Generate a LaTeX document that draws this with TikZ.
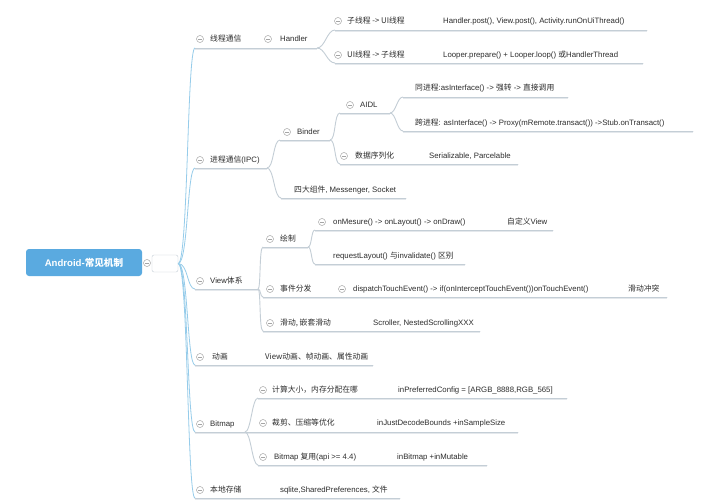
\documentclass[tikz,border=0pt]{standalone}
\usepackage{fontspec}
\setmainfont{Liberation Sans}
\newfontfamily\cjk{Noto Sans CJK SC}
\newcommand\zh[1]{{\cjk #1}}
\definecolor{rootblue}{RGB}{90,170,224}
\definecolor{ulgray}{RGB}{196,206,214}
\definecolor{ulshadow}{RGB}{228,232,236}
\definecolor{trunkblue}{RGB}{150,204,234}
\definecolor{txtgray}{RGB}{45,45,45}
\definecolor{mgray}{RGB}{165,165,165}
\newcommand\ulc[4]{%
  \coordinate (#1-s) at (#2,#4);
  \coordinate (#1-e) at (#3,#4);
  \draw[ulsh] ([yshift=-1.2pt]#1-s) -- ([yshift=-1.2pt]#1-e);
  \draw[ul] (#1-s) -- (#1-e);}
\tikzset{
  ul/.style={draw=ulgray, line width=0.9pt, line cap=round},
  ulsh/.style={draw=ulshadow, line width=0.9pt},
  conn/.style={draw=ulgray, line width=0.9pt},
  trunk/.style={draw=trunkblue, line width=0.8pt},
  txt/.style={anchor=west, inner sep=0pt, text=txtgray, font=\fontsize{7.8}{8.5}\selectfont},
  minus/.style={circle, draw=mgray, fill=white, line width=0.5pt, minimum size=7pt, inner sep=0pt,
    path picture={\draw[mgray, line width=0.5pt] ([xshift=-2pt]path picture bounding box.center) -- ([xshift=2pt]path picture bounding box.center);}},
}
\begin{document}
\begin{tikzpicture}[x=1pt,y=-1pt]
\useasboundingbox[fill=white] (0,0) rectangle (720,500);

% root
\node[fill=rootblue, rounded corners=3pt, minimum width=116pt, minimum height=27pt, inner sep=0pt,
      text=white, font=\fontsize{9.6}{10}\selectfont\bfseries] (root) at (84,262.5) {Android-\zh{常见机制}};
\node[minus] (root-m) at (147,263) {};
\node[draw=ulgray, fill=white, rounded corners=2pt, minimum width=26pt, minimum height=17pt, inner sep=0pt] (box) at (165,263.5) {};

% level-1 underlines
\ulc{t1}{195}{255}{48}
\ulc{t2}{195}{267}{168}
\ulc{t3}{195}{258}{289}
\ulc{t4}{195}{373}{365}
\ulc{t5}{195}{245}{432}
\ulc{t6}{195}{400}{498}

% trunk connectors
\foreach \t in {t1,t2,t3,t4,t5,t6}
  \draw[trunk] (box.east) .. controls +(10,0) and +(-8,0) .. (\t-s);

% ---- 线程通信
\node[minus] (t1-m) at (200,39) {};
\node[txt] (t1) at (210,39) {\zh{线程通信}};
\ulc{h}{255}{317}{48}
\node[minus] (h-m) at (268,39) {};
\node[txt] (h) at (280,39) {Handler};
\ulc{t11}{335}{647}{30}
\ulc{t12}{335}{643}{63}
\draw[conn] (h-e) .. controls +(8,0) and +(-8,0) .. (t11-s);
\draw[conn] (h-e) .. controls +(8,0) and +(-8,0) .. (t12-s);
\node[minus] (t11-m) at (338,21) {};
\node[txt] (t11) at (347,21) {\zh{子线程 -> UI线程}};
\node[txt] (l11) at (443,21) {Handler.post(), View.post(), Activity.runOnUiThread()};
\node[minus] (t12-m) at (338,55) {};
\node[txt] (t12) at (347,55) {\zh{UI线程 -> 子线程}};
\node[txt] (l12) at (443,55) {Looper.prepare() + Looper.loop() \zh{或}HandlerThread};

% ---- 进程通信(IPC)
\node[minus] (t2-m) at (200,160) {};
\node[txt] (t2) at (210,160) {\zh{进程通信}(IPC)};
\ulc{b}{280}{330}{140}
\ulc{f}{281}{406}{198}
\draw[conn] (t2-e) .. controls +(7,0) and +(-7,0) .. (b-s);
\draw[conn] (t2-e) .. controls +(7,0) and +(-7,0) .. (f-s);
\node[minus] (b-m) at (287,132) {};
\node[txt] (b) at (297,132) {Binder};
\node[txt] (f) at (294,190) {\zh{四大组件}, Messenger, Socket};
\ulc{a}{340}{390}{113}
\ulc{s}{340}{518}{164}
\draw[conn] (b-e) .. controls +(6,0) and +(-6,0) .. (a-s);
\draw[conn] (b-e) .. controls +(6,0) and +(-6,0) .. (s-s);
\node[minus] (a-m) at (350,105) {};
\node[txt] (a) at (360,105) {AIDL};
\node[minus] (s-m) at (344,156) {};
\node[txt] (s) at (355,156) {\zh{数据序列化}};
\node[txt] (sl) at (429,156) {Serializable, Parcelable};
\ulc{a1}{403}{568}{97}
\ulc{a2}{403}{693}{131}
\draw[conn] (a-e) .. controls +(6,0) and +(-6,0) .. (a1-s);
\draw[conn] (a-e) .. controls +(6,0) and +(-6,0) .. (a2-s);
\node[txt] (a1) at (415,88) {\zh{同进程}:asInterface() -> \zh{强转} -> \zh{直接调用}};
\node[txt] (a2) at (415,123) {\zh{跨进程}: asInterface() -> Proxy(mRemote.transact()) ->Stub.onTransact()};

% ---- View体系
\node[minus] (t3-m) at (200,281) {};
\node[txt] (t3) at (210,281) {View\zh{体系}};
\ulc{d}{263}{308}{247}
\ulc{e}{263}{330}{297}
\ulc{g}{263}{480}{331}
\draw[conn] (t3-e) .. controls +(3,0) and +(-4,0) .. (d-s);
\draw[conn] (t3-e) .. controls +(3,0) and +(-3,0) .. (e-s);
\draw[conn] (t3-e) .. controls +(3,0) and +(-4,0) .. (g-s);
\node[minus] (d-m) at (270,239) {};
\node[txt] (d) at (280,239) {\zh{绘制}};
\ulc{d1}{315}{553}{230}
\ulc{d2}{315}{465}{264}
\draw[conn] (d-e) .. controls +(4,0) and +(-4,0) .. (d1-s);
\draw[conn] (d-e) .. controls +(4,0) and +(-4,0) .. (d2-s);
\node[minus] (d1-m) at (322,222) {};
\node[txt] (d1) at (333,222) {onMesure() -> onLayout() -> onDraw()};
\node[txt] (d1l) at (507,222) {\zh{自定义}View};
\node[txt] (d2) at (333,256) {requestLayout() \zh{与}invalidate() \zh{区别}};
\node[minus] (e-m) at (270,289) {};
\node[txt] (e) at (280,289) {\zh{事件分发}};
\ulc{e1}{330}{667}{297}
\node[minus] (e1-m) at (342,289) {};
\node[txt] (e1) at (353,289) {dispatchTouchEvent() -> if(onInterceptTouchEvent())onTouchEvent()};
\node[txt] (e1l) at (628,289) {\zh{滑动冲突}};
\node[minus] (g-m) at (270,323) {};
\node[txt] (g) at (280,323) {\zh{滑动, 嵌套滑动}};
\node[txt] (gl) at (373,323) {Scroller, NestedScrollingXXX};

% ---- 动画
\node[minus] (t4-m) at (200,357) {};
\node[txt] (t4) at (212,357) {\zh{动画}};
\node[txt] (t4l) at (265,357) {\zh{View动画、帧动画、属性动画}};

% ---- Bitmap
\node[minus] (t5-m) at (200,424) {};
\node[txt] (t5) at (210,424) {Bitmap};
\ulc{m1}{258}{567}{398}
\ulc{m2}{245}{518}{432}
\ulc{m3}{258}{487}{465}
\draw[conn] (t5-e) .. controls +(6,0) and +(-6,0) .. (m1-s);
\draw[conn] (t5-e) .. controls +(6,0) and +(-6,0) .. (m3-s);
\node[minus] (m1-m) at (263,390) {};
\node[txt] (m1) at (272,390) {\zh{计算大小，内存分配在哪}};
\node[txt] (m1l) at (398,390) {inPreferredConfig = [ARGB\_8888,RGB\_565]};
\node[minus] (m2-m) at (263,423) {};
\node[txt] (m2) at (272,423) {\zh{裁剪、压缩等优化}};
\node[txt] (m2l) at (377,423) {inJustDecodeBounds +inSampleSize};
\node[minus] (m3-m) at (263,457) {};
\node[txt] (m3) at (274,457) {Bitmap \zh{复用}(api >= 4.4)};
\node[txt] (m3l) at (397,457) {inBitmap +inMutable};

% ---- 本地存储
\node[minus] (t6-m) at (200,490) {};
\node[txt] (t6) at (210,490) {\zh{本地存储}};
\node[txt] (t6l) at (280,490) {sqlite,SharedPreferences, \zh{文件}};
\end{tikzpicture}
\end{document}
